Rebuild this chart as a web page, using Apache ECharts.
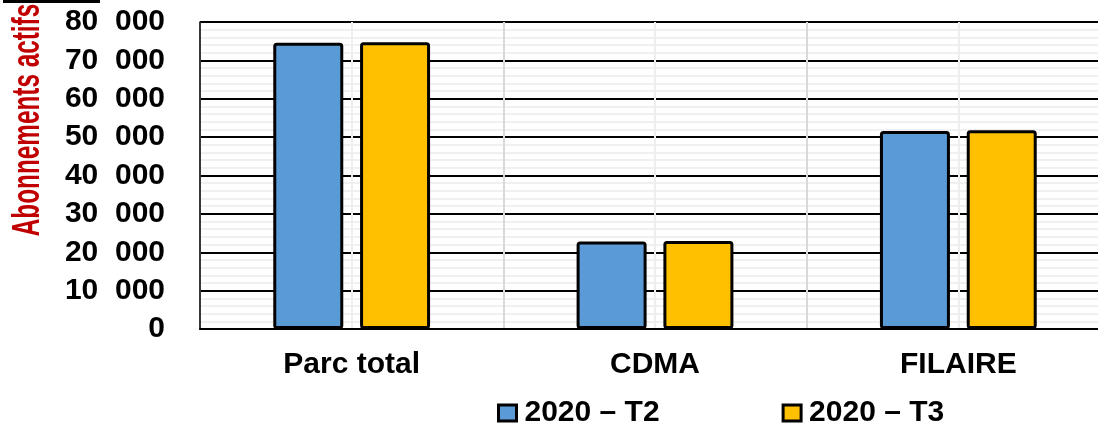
<!DOCTYPE html>
<html>
<head>
<meta charset="utf-8">
<script src="https://cdn.jsdelivr.net/npm/echarts@6/dist/echarts.min.js"></script>
<style>
  html, body { margin: 0; padding: 0; background: #fff; }
  #chart { width: 1098px; height: 427px; }
</style>
</head>
<body>
<div id="chart"></div>
<script>
// données
const categories = ['Parc total', 'CDMA', 'FILAIRE']
const seriesNames = ['2020 – T2', '2020 – T3']
const valuesT2 = [74600, 22800, 51600]
const valuesT3 = [74700, 22900, 51800]
const yTicks = [0, 10000, 20000, 30000, 40000, 50000, 60000, 70000, 80000]

const FONT = 'Liberation Sans, Arial, sans-serif'

const chart = echarts.init(document.getElementById('chart'), null, {renderer: 'canvas'})

// format "80  000"
function fmt(v) {
  if (v === 0) return '0'
  const k = Math.floor(v / 1000)
  return k + '  ' + String(v % 1000).padStart(3, '0')
}

const option = {
  backgroundColor: '#ffffff',
  animation: false,
  grid: {
    left: 200,
    top: 22,
    width: 910,
    height: 307,
    outerBoundsMode: 'none',
  },
  legend: {
    left: 492,
    top: 393,
    itemWidth: 18,
    itemHeight: 16,
    itemGap: 122,
    icon: 'rect',
    data: seriesNames,
    itemStyle: {borderColor: '#000', borderWidth: 3},
    textStyle: {fontFamily: FONT, fontWeight: 'bold', fontSize: 30, color: '#000', padding: [0, 0, 0, 3]},
  },
  graphic: [
    {
      type: 'rect',
      shape: {x: 3, y: 0, width: 97, height: 3},
      style: {fill: '#000'},
    },
    {
      type: 'text',
      x: 29,
      y: 120,
      rotation: Math.PI / 2,
      scaleX: 0.64,
      style: {
        text: 'Abonnements actifs',
        fill: '#c00000',
        font: 'bold 38px ' + FONT,
        align: 'center',
        verticalAlign: 'middle',
      },
    },
  ],
  xAxis: [
    /** axe des catégories */
    {
      type: 'category',
      data: categories,
      axisTick: {show: false},
      axisLine: {show: true, lineStyle: {color: '#000', width: 2}},
      axisLabel: {
        margin: 21,
        fontFamily: FONT,
        fontWeight: 'bold',
        fontSize: 30,
        color: '#000',
      },
      splitLine: {show: false},
      z: 3,
    },
    /** axe caché pour les lignes verticales */
    {
      type: 'value',
      position: 'top',
      min: 0,
      max: 3,
      interval: 0.5,
      axisLine: {show: false},
      axisTick: {show: false},
      axisLabel: {show: false},
      splitLine: {
        show: true,
        lineStyle: {color: ['#d9d9d9', '#eeeeee'], width: 2},
      },
    },
  ],
  yAxis: {
    type: 'value',
    min: yTicks[0],
    max: yTicks[yTicks.length - 1],
    interval: 10000,
    axisLine: {show: true, lineStyle: {color: '#000', width: 1.5}},
    axisTick: {show: false},
    axisLabel: {
      margin: 35,
      formatter: fmt,
      fontFamily: FONT,
      fontWeight: 'bold',
      fontSize: 30,
      color: '#000',
    },
    splitLine: {show: true, lineStyle: {color: '#000', width: 2}},
    minorTick: {show: false, splitNumber: 5},
    minorSplitLine: {show: true, lineStyle: {color: '#f0f0f0', width: 2}},
  },
  series: [
    {
      name: seriesNames[0],
      type: 'bar',
      data: valuesT2,
      barWidth: 70,
      barGap: '24%',
      itemStyle: {color: '#5b9bd5', borderColor: '#000', borderWidth: 3, borderRadius: 2},
    },
    {
      name: seriesNames[1],
      type: 'bar',
      data: valuesT3,
      barWidth: 70,
      barGap: '24%',
      itemStyle: {color: '#ffc000', borderColor: '#000', borderWidth: 3, borderRadius: 2},
    },
  ],
}

chart.setOption(option)
</script>
</body>
</html>
